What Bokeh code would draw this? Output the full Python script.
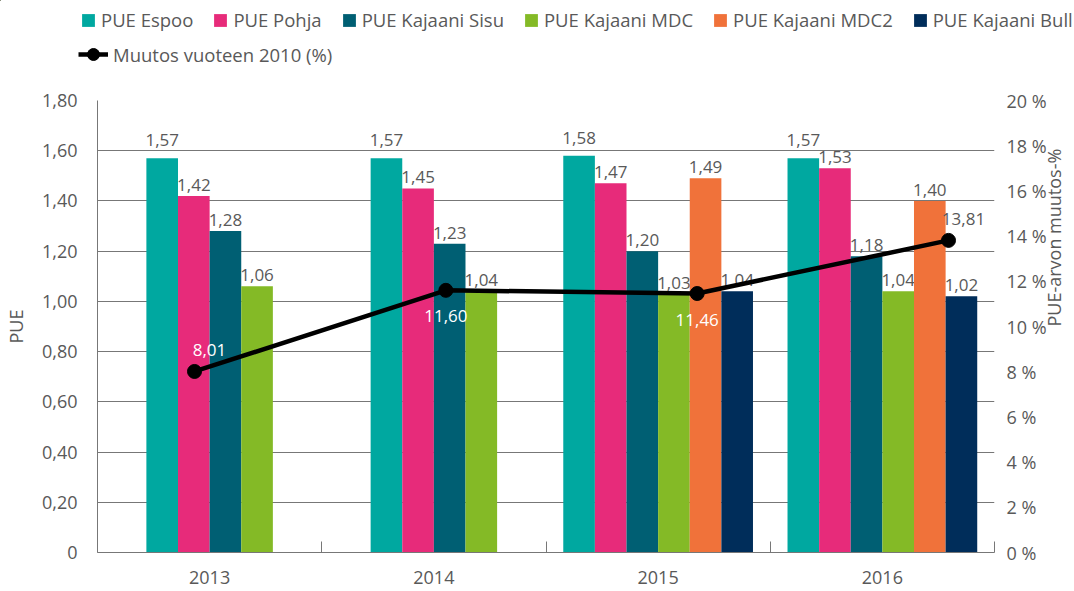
import math
from bokeh.plotting import figure
from bokeh.layouts import column
from bokeh.models import (ColumnDataSource, Range1d, LinearAxis, FixedTicker, SingleIntervalTicker,
                          CustomJSTickFormatter, Legend, LegendItem)
from bokeh.core.properties import value
from bokeh.embed import file_html
from bokeh.resources import INLINE

# ---- data ----
years = ["2013", "2014", "2015", "2016"]
series_names = ["PUE Espoo", "PUE Pohja", "PUE Kajaani Sisu", "PUE Kajaani MDC",
                "PUE Kajaani MDC2", "PUE Kajaani Bull"]
pue_espoo = [1.57, 1.57, 1.58, 1.57]
pue_pohja = [1.42, 1.45, 1.47, 1.53]
pue_sisu = [1.28, 1.23, 1.20, 1.18]
pue_mdc = [1.06, 1.04, 1.03, 1.04]
pue_mdc2 = [None, None, 1.49, 1.40]
pue_bull = [None, None, 1.04, 1.02]
change_name = "Muutos vuoteen 2010 (%)"
change_pct = [8.01, 11.60, 11.46, 13.81]
pue_ticks_interval = 0.2
pct_ticks_interval = 2

# ---- styles ----
colors = ["#00A8A0", "#E72B7A", "#005F73", "#84BA26", "#F0723A", "#002D5A"]
label_lift = [18, 11, 11, 11, 11, 11]
label_place = ["above", "below", "below", "above"]
label_colors = ["white", "white", "white", "#595959"]
FONT = "Open Sans"
TXT = "#595959"
AX = "#777777"
FS = "18px"
FS_BAR = "17px"
FS_LEG = "18.5px"

series = [pue_espoo, pue_pohja, pue_sisu, pue_mdc, pue_mdc2, pue_bull]
bar_w = 0.141

# ---------------- main chart ----------------
p = figure(frame_width=897, frame_height=452, output_backend="svg", toolbar_location=None,
           title_location=None,
           x_range=Range1d(0, len(years)), y_range=Range1d(0, 1.8),
           min_border_left=96, min_border_right=10, min_border_top=30, min_border_bottom=0)
p.frame_align = False
p.extra_y_ranges = {"pct": Range1d(0, 20)}
p.extra_x_ranges = {"line": Range1d(-0.386, 3.183)}
p.outline_line_color = None
p.xgrid.grid_line_color = None
p.ygrid.grid_line_color = AX
p.ygrid.ticker = SingleIntervalTicker(interval=pue_ticks_interval, num_minor_ticks=0)

bar_sources = []
for k, (name, vals) in enumerate(zip(series_names, series)):
    xs, tops, labels = [], [], []
    for j, v in enumerate(vals):
        if v is None:
            continue
        present = [kk for kk in range(len(series)) if series[kk][j] is not None]
        m = present.index(k)
        n = len(present)
        xs.append(j + 0.5 + (m - (n - 1) / 2) * bar_w)
        tops.append(v)
        labels.append(f"{v:.2f}".replace(".", ","))
    src = ColumnDataSource(dict(x=xs, top=tops, label=labels))
    bar_sources.append(src)
    p.vbar(x="x", top="top", width=bar_w, source=src, fill_color=colors[k], line_color=None)
    p.text(x="x", y="top", text="label", source=src, text_align="center", text_baseline="alphabetic",
           y_offset=-label_lift[k], text_font=value(FONT), text_font_size=FS_BAR, text_color=TXT)

xo = [15 if pl == "above" else 0 for pl in label_place]
yo = [-21 if pl == "above" else 26 for pl in label_place]
lsrc = ColumnDataSource(dict(x=list(range(len(years))), y=change_pct,
                             label=[f"{v:.2f}".replace(".", ",") for v in change_pct],
                             xo=xo, yo=yo, c=label_colors))
p.line(x="x", y="y", source=lsrc, x_range_name="line", y_range_name="pct",
       line_color="black", line_width=4.5)
p.scatter(x="x", y="y", source=lsrc, x_range_name="line", y_range_name="pct",
          size=14, fill_color="black", line_color="black")
p.text(x="x", y="y", text="label", source=lsrc, x_range_name="line", y_range_name="pct",
       x_offset="xo", y_offset="yo", text_align="center", text_baseline="middle",
       text_font=value(FONT), text_font_size=FS_BAR, text_color="c")

xax = p.xaxis[0]
xax.ticker = FixedTicker(ticks=[j + 0.5 for j in range(len(years))],
                         minor_ticks=list(range(len(years) + 1)))
xax.formatter = CustomJSTickFormatter(args=dict(labels=years),
                                      code="return labels[Math.floor(tick)];")
xax.major_tick_line_color = None
xax.major_tick_in = 0
xax.major_tick_out = 0
xax.minor_tick_in = 11
xax.minor_tick_out = 0
xax.minor_tick_line_color = AX
xax.axis_line_color = AX
xax.major_label_standoff = 18
xax.major_label_text_font = FONT
xax.major_label_text_font_size = FS
xax.major_label_text_color = TXT

yax = p.yaxis[0]
yax.ticker = SingleIntervalTicker(interval=pue_ticks_interval, num_minor_ticks=0)
yax.formatter = CustomJSTickFormatter(code="return Math.abs(tick) < 1e-9 ? '0' : tick.toFixed(2).replace('.', ',');")
yax.axis_line_color = AX
yax.major_tick_line_color = None
yax.minor_tick_line_color = None
yax.major_tick_out = 0
yax.major_label_standoff = 20
yax.major_label_text_font = FONT
yax.major_label_text_font_size = FS
yax.major_label_text_color = TXT
yax.axis_label = "PUE"
yax.axis_label_standoff = 11
yax.axis_label_text_font = FONT
yax.axis_label_text_font_size = FS
yax.axis_label_text_font_style = "normal"
yax.axis_label_text_color = TXT

rax = LinearAxis(y_range_name="pct",
                 ticker=SingleIntervalTicker(interval=pct_ticks_interval, num_minor_ticks=0),
                 formatter=CustomJSTickFormatter(code="return tick.toFixed(0) + ' %';"))
rax.axis_line_color = None
rax.major_tick_line_color = None
rax.minor_tick_line_color = None
rax.major_tick_out = 0
rax.major_label_standoff = 12
rax.major_label_text_font = FONT
rax.major_label_text_font_size = FS
rax.major_label_text_color = TXT
rax.axis_label = "PUE-arvon muutos-%"
rax.axis_label_orientation = math.pi / 2
rax.axis_label_standoff = 4
rax.axis_label_text_font = FONT
rax.axis_label_text_font_size = FS
rax.axis_label_text_font_style = "normal"
rax.axis_label_text_color = TXT
p.add_layout(rax, "right")

# ---------------- legend strip (legend swatches only; its glyphs lie far outside its view) ----------------
lg = figure(width=1074, height=70, output_backend="svg", toolbar_location=None,
            title_location=None,
            x_range=Range1d(1000, 1001), y_range=Range1d(-1000, -999), min_border=0,
            x_axis_location=None, y_axis_location=None)
lg.frame_align = False
lg.outline_line_color = None
lg.grid.grid_line_color = None
bar_items = []
for k, name in enumerate(series_names):
    r = lg.vbar(x="x", top="top", width=bar_w, source=bar_sources[k],
                fill_color=colors[k], line_color=None)
    bar_items.append(LegendItem(label=name, renderers=[r]))
lr = lg.line(x="x", y="y", source=lsrc, line_color="black", line_width=4.5)
sr = lg.scatter(x="x", y="y", source=lsrc, size=15, fill_color="black", line_color="black")

def mk_legend(items, loc, gw, gh):
    return Legend(items=items, orientation="horizontal", location=loc, spacing=19,
                  glyph_width=gw, glyph_height=gh, label_standoff=5, padding=0, margin=0,
                  border_line_color=None, background_fill_alpha=0,
                  label_text_font=FONT, label_text_font_size=FS_LEG, label_text_color=TXT,
                  label_height=25)

lg.add_layout(mk_legend(bar_items, (80, 38), 16, 16))
lg.add_layout(mk_legend([LegendItem(label=change_name, renderers=[lr, sr])], (78, 1), 30, 30))

open("out.html", "w").write(file_html(column(lg, p, spacing=0), INLINE))
